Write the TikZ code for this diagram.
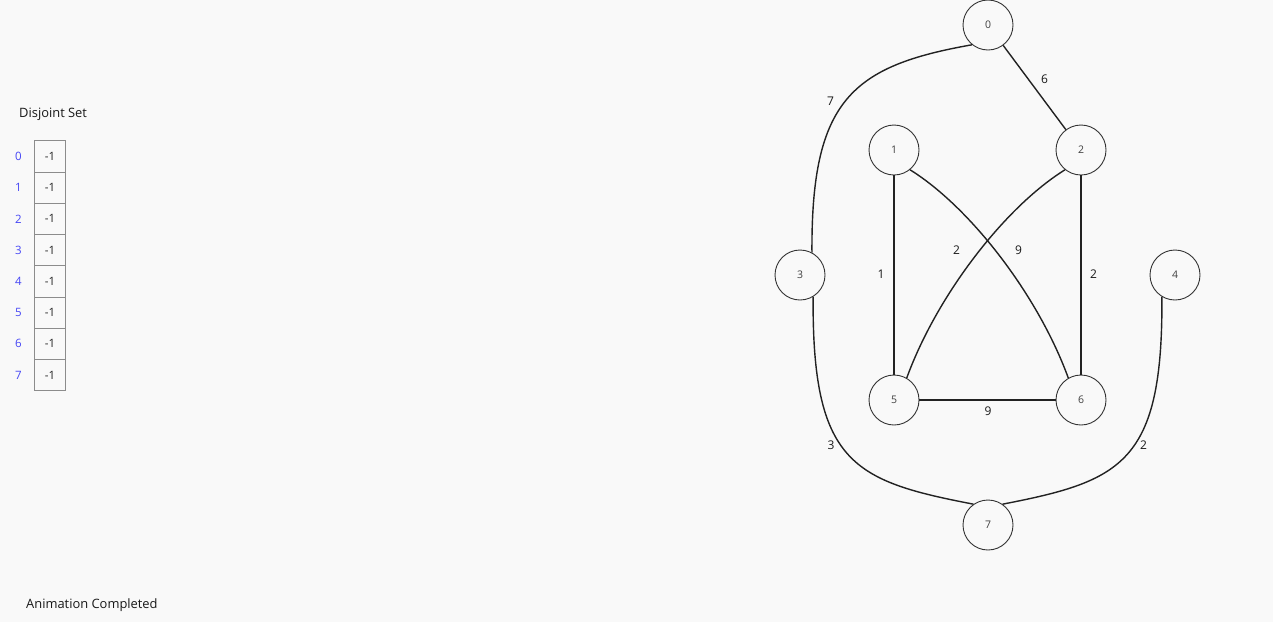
\documentclass[tikz,border=0pt]{standalone}
\usepackage{fontspec}
\setmainfont{Open Sans}
\definecolor{bgc}{RGB}{249,249,249}
\definecolor{idxblue}{RGB}{70,70,245}
\definecolor{edgec}{RGB}{34,34,34}
\definecolor{circc}{RGB}{51,51,51}
\begin{document}
\begin{tikzpicture}[x=1pt,y=-1pt,
  vert/.style={circle,draw=circc,line width=0.9pt,minimum size=50pt,inner sep=0pt,
    fill=bgc,font=\fontsize{10.5}{12}\selectfont,text=black!75},
  edge/.style={line width=1.4pt,draw=edgec},
  wlabel/.style={font=\fontsize{12}{14}\selectfont,text=black!90,inner sep=0pt},
  cell/.style={draw=black!45,line width=0.8pt,minimum width=31pt,minimum height=31.25pt,
    inner sep=0pt,font=\fontsize{11.5}{13}\selectfont,text=black!85},
  idx/.style={font=\fontsize{11.5}{13}\selectfont,text=idxblue,inner sep=0pt},
  plain/.style={font=\fontsize{12.9}{14}\selectfont,text=black!90,inner sep=0pt,anchor=west}]
\useasboundingbox (0,0) rectangle (1273,622);
\fill[bgc] (0,0) rectangle (1273,622);

% Disjoint set table
\node[plain] (title) at (19,114) {Disjoint Set};
\foreach \i in {0,...,7}{
  \node[cell] (c\i) at (50,{156.35+31.25*\i}) {-1};
  \node[idx] (i\i) at (18.5,{156.35+31.25*\i}) {\i};
}
\node[plain] (status) at (26,605) {Animation Completed};

% Graph vertices
\node[vert] (n0) at (988,25) {0};
\node[vert] (n1) at (894,150) {1};
\node[vert] (n2) at (1081,150) {2};
\node[vert] (n3) at (800,275) {3};
\node[vert] (n4) at (1175,275) {4};
\node[vert] (n5) at (894,400) {5};
\node[vert] (n6) at (1081,400) {6};
\node[vert] (n7) at (988,525) {7};

% Edges
\draw[edge] (n0) -- (n2);
\draw[edge] (n1) -- (n5);
\draw[edge] (n2) -- (n6);
\draw[edge] (n5) -- (n6);
\draw[edge] (n0.231) .. controls (852,66) and (811,100) .. (n3.62);
\draw[edge] (n3.-59) .. controls (812,463) and (853,481) .. (n7.125);
\draw[edge] (n4.239) .. controls (1163,463) and (1122,481) .. (n7.55);
\draw[edge] (n1.-51) .. controls (970,207) and (1038,295) .. (n6.120);
\draw[edge] (n2.231) .. controls (1005,207) and (937,295) .. (n5.60);

% Edge weights
\node[wlabel] (w02) at (1044.5,79) {6};
\node[wlabel] (w03) at (830.5,101.5) {7};
\node[wlabel] (w15) at (881,274) {1};
\node[wlabel] (w25) at (956.5,250.5) {2};
\node[wlabel] (w16) at (1018.5,250) {9};
\node[wlabel] (w26) at (1093.5,274) {2};
\node[wlabel] (w56) at (988,411) {9};
\node[wlabel] (w37) at (831,445) {3};
\node[wlabel] (w47) at (1143.5,445) {2};
\end{tikzpicture}
\end{document}
